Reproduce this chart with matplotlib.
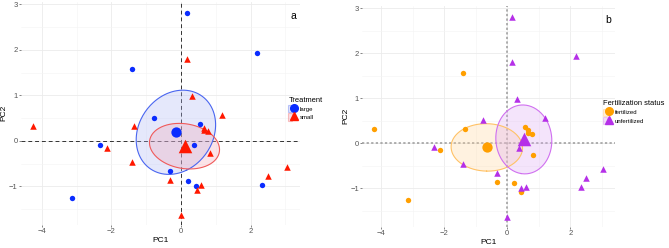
import numpy as np
import matplotlib
matplotlib.use("Agg")
import matplotlib.pyplot as plt
from matplotlib.patches import Patch
from matplotlib.lines import Line2D
from matplotlib.legend_handler import HandlerTuple

plt.rcParams["font.family"] = ["Liberation Sans", "DejaVu Sans"]

# PCA scores (one entry per plot)
pc1 = [-1.40, -0.78, -2.34, -3.14, -0.32, 0.16, 2.19, 0.55, 0.36, 0.20, 0.43, 2.33,
       -4.24, -1.34, -2.14, -1.40, 0.16, 0.31, 1.19, 0.65, 0.67, 0.78, 0.83, -0.32,
       0.58, 0.45, 2.49, 3.05, -0.01]
pc2 = [1.57, 0.51, -0.09, -1.26, -0.66, 2.82, 1.94, 0.37, -0.10, -0.88, -1.00, -0.96,
       0.32, 0.33, -0.15, -0.46, 1.81, 0.98, 0.56, 0.29, 0.24, 0.21, -0.26, -0.85,
       -0.96, -1.08, -0.77, -0.57, -1.63]
treatment = ["large"] * 12 + ["small"] * 17
fertilization = ["fertilized", "unfertilized", "unfertilized", "fertilized", "unfertilized",
                 "unfertilized", "unfertilized", "fertilized", "unfertilized", "fertilized",
                 "unfertilized", "unfertilized",
                 "fertilized", "fertilized", "fertilized", "unfertilized", "unfertilized",
                 "unfertilized", "unfertilized", "fertilized", "fertilized", "fertilized",
                 "fertilized", "fertilized", "unfertilized", "fertilized", "unfertilized",
                 "unfertilized", "unfertilized"]

x_ticks = [-4, -2, 0, 2]
y_ticks = [-1, 0, 1, 2, 3]
xlim = (-4.6, 3.41)
ylim = (-1.85, 3.06)

pc1 = np.array(pc1)
pc2 = np.array(pc2)


def conf_ellipse(x, y):
    # 95% confidence ellipse of the group centroid
    cov = np.cov(x, y) / len(x)
    vals, vecs = np.linalg.eigh(cov)
    t = np.linspace(0, 2 * np.pi, 200)
    circ = np.vstack([np.cos(t), np.sin(t)]) * np.sqrt(vals[:, None] * 5.991)
    pts = vecs @ circ
    return x.mean() + pts[0], y.mean() + pts[1]


def panel(ax, groups, labels, colors, edges, fills, zero_style, letter,
          title, legend_pos):
    ax.set_xlim(*xlim)
    ax.set_ylim(*ylim)
    ax.set_xticks(x_ticks)
    ax.set_yticks(y_ticks)
    ax.set_xticks([-3, -1, 1, 3], minor=True)
    ax.set_yticks([-1.5, -0.5, 0.5, 1.5, 2.5], minor=True)
    ax.grid(which="major", color="#ebebeb", lw=0.6)
    ax.grid(which="minor", color="#f4f4f4", lw=0.4)
    ax.set_axisbelow(True)
    for s in ax.spines.values():
        s.set_visible(False)
    ax.tick_params(which="major", length=1.5, width=0.5, color="#555555",
                   labelsize=5.5, labelcolor="#555555", pad=0.8)
    ax.tick_params(which="minor", length=0)
    ax.set_xlabel("PC1", fontsize=6, labelpad=1.5)
    ax.set_ylabel("PC2", fontsize=6, labelpad=1)
    ax.axhline(0, **zero_style)
    ax.axvline(0, **zero_style)

    g = np.array(groups)
    markers = ["o", "^"]
    handles = []
    for lab, ec, fc in zip(labels, edges, fills):
        sel = g == lab
        ex, ey = conf_ellipse(pc1[sel], pc2[sel])
        ax.fill(ex, ey, color=fc, alpha=0.3, lw=0, zorder=2)
        ax.plot(ex, ey, color=ec, lw=0.8, zorder=3)
    for lab, c, ec, fc, m in zip(labels, colors, edges, fills, markers):
        sel = g == lab
        ax.scatter(pc1[sel], pc2[sel], s=15 if m == "o" else 22, marker=m,
                   color=c, lw=0, zorder=4)
        ax.scatter(pc1[sel].mean(), pc2[sel].mean(), s=55 if m == "o" else 95,
                   marker=m, color=c, lw=0, zorder=5)
        handles.append((Patch(facecolor=fc, alpha=0.35, edgecolor=ec, lw=0.8),
                        Line2D([], [], ls="", marker=m, color=c, markersize=5.5)))
    ax.text(0.976, 0.935, letter, transform=ax.transAxes, fontsize=7.5,
            ha="center", va="center")
    leg = ax.legend(handles, labels, title=title,
                    handler_map={tuple: HandlerTuple(ndivide=None)},
                    loc="upper left", bbox_to_anchor=legend_pos,
                    bbox_transform=plt.gcf().transFigure, frameon=False,
                    fontsize=4.3, title_fontsize=5.4, handlelength=1.35, handleheight=1.5,
                    handletextpad=0.5, labelspacing=0.2, borderpad=0, borderaxespad=0)
    leg._legend_box.align = "left"


fig = plt.figure(figsize=(6.69, 2.48), dpi=100)
ax1 = fig.add_axes([0.0312, 0.0928, 0.4168, 0.9004])
ax2 = fig.add_axes([0.5417, 0.0860, 0.3771, 0.8910])

panel(ax1, treatment, ["large", "small"],
      ["#0a2cff", "#ff1800"], ["#4a66f0", "#f05a5a"], ["#a9b4f5", "#f2a3b5"],
      dict(color="#333333", ls=(0, (4, 3)), lw=0.7, zorder=1.5),
      "a", "Treatment", (0.431, 0.61))
panel(ax2, fertilization, ["fertilized", "unfertilized"],
      ["#ff9f00", "#b530e8"], ["#ffc266", "#d070f0"], ["#ffd49a", "#dba8f2"],
      dict(color="#9a9a9a", ls=(0, (1.5, 1.5)), lw=1.1, zorder=1.5),
      "b", "Fertilization status", (0.902, 0.595))

fig.savefig("out.png", dpi=100)
